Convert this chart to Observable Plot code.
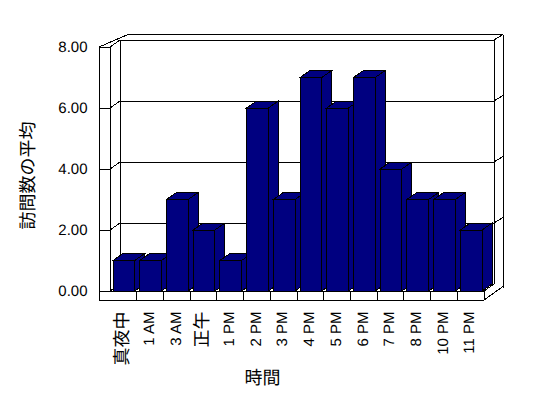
<!DOCTYPE html>
<html><head><meta charset="utf-8">
<script src="https://cdn.jsdelivr.net/npm/d3@7"></script>
<script src="https://cdn.jsdelivr.net/npm/@observablehq/plot@0.6"></script>
<style>html,body{margin:0;padding:0;background:#fff;overflow:hidden}svg text{text-rendering:geometricPrecision}</style>
</head><body><div id="chart"></div>
<script>
const categories = ["真夜中","1 AM","3 AM","正午","1 PM","2 PM","3 PM","4 PM","5 PM","6 PM","7 PM","8 PM","10 PM","11 PM"];
const visits = [1,1,3,2,1,6,3,7,6,7,4,3,3,2];
const yTicks = [0,2,4,6,8];
const yTitle = "訪問数の平均";
const xTitle = "時間";

const data = categories.map((c, i) => ({cat: c, v: visits[i]}));

const BAR_FILL = "#000080";
const DEPTH = [10, -7];      // 3D depth offset
const WALL = 11;             // left wall thickness
const FLOOR = 9;             // floor slab thickness
const BACK = [9, -5.5];      // back wall thickness
const INSET_L = 3, INSET_R = 2;
const LATIN = "'Liberation Sans', Arial, 'Noto Sans CJK JP', sans-serif";
const CJK = "'Noto Sans CJK JP', sans-serif";
const isCJK = s => /[^\x00-\x7F]/.test(s);

function walls(index, scales) {
  const x = scales.x, y = scales.y;
  const [X0, X1] = x.range();
  const Y0 = y(0), Yt = y(d3.max(yTicks));
  const [dx, dy] = DEPTH;
  const [tx, ty] = BACK;
  const p = d3.path();
  const seg = (a, b, c, d) => { p.moveTo(a, b); p.lineTo(c, d); };
  const XL = X0 - WALL, YB = Y0 + FLOOR;
  seg(XL, Yt, XL, YB);
  seg(X0, Yt, X0, Y0);
  seg(XL, Yt, X0, Yt);
  seg(XL, Yt, X0 + dx + tx - 1, Yt + dy + ty);
  seg(X0, Yt, X0 + dx, Yt + dy);
  seg(X0 + dx + tx - 1, Yt + dy + ty, X1 + dx + tx, Yt + dy + ty);
  seg(X0 + dx, Yt + dy, X0 + dx, Y0 + dy);
  seg(X1 + dx, Yt + dy, X1 + dx, Y0 + dy);
  seg(X1 + dx + tx, Yt + dy + ty, X1 + dx + tx, YB + dy + ty);
  seg(X1 + dx, Yt + dy, X1 + dx + tx, Yt + dy + ty);
  for (const t of yTicks) {
    const yy = y(t);
    seg(XL, yy, X0, yy);
    seg(X0, yy, X0 + dx, yy + dy);
    seg(X0 + dx, yy + dy, X1 + dx, yy + dy);
    if (t !== 0) seg(X1 + dx, yy + dy, X1 + dx + tx, yy + dy + ty);
  }
  seg(X0, Y0, X1, Y0);
  seg(XL, YB, X1, YB);
  seg(X1, Y0, X1, YB);
  seg(X1, Y0, X1 + dx, Y0 + dy);
  seg(X1, YB, X1 + dx + tx, YB + dy + ty - 1);
  for (const c of categories.slice(1)) seg(x(c), Y0, x(c), YB);
  const g = d3.create("svg:g");
  g.append("path").attr("d", p.toString()).attr("fill", "none").attr("stroke", "black")
    .attr("stroke-width", 1).attr("shape-rendering", "crispEdges");
  return g.node();
}

function extrusions(index, scales) {
  const x = scales.x, y = scales.y;
  const bw = x.bandwidth();
  const [dx, dy] = DEPTH;
  const g = d3.create("svg:g").attr("fill", BAR_FILL).attr("stroke", "black")
    .attr("stroke-linejoin", "miter").attr("shape-rendering", "crispEdges");
  data.forEach(d => {
    const L = x(d.cat) + INSET_L, R = x(d.cat) + bw - INSET_R;
    const T = y(d.v), B = y(0);
    g.append("path").attr("d", `M${R},${T}L${R + dx},${T + dy}L${R + dx},${B + dy}L${R},${B}Z`);
    g.append("path").attr("d", `M${L},${T}L${R},${T}L${R + dx},${T + dy}L${L + dx},${T + dy}Z`);
  });
  return g.node();
}

const chart = Plot.plot({
  width: 548,
  height: 398,
  marginLeft: 110,
  marginRight: 64,
  marginTop: 47,
  marginBottom: 107,
  style: {fontFamily: LATIN, fontSize: "15px", background: "white", color: "black"},
  x: {domain: categories, padding: 0, round: false, axis: null},
  y: {domain: [0, 8], axis: null},
  marks: [
    walls,
    extrusions,
    Plot.barY(data, {x: "cat", y: "v", fill: BAR_FILL, stroke: "black", insetLeft: INSET_L, insetRight: INSET_R, shapeRendering: "crispEdges"}),
    Plot.text(yTicks, {y: d => d, text: d => d3.format(".2f")(d), frameAnchor: "left", textAnchor: "end", dx: -23, fontSize: 15, fontFamily: LATIN, fill: "black"}),
    Plot.text(categories.filter(c => !isCJK(c)), {x: d => d, text: d => d, frameAnchor: "bottom", rotate: -90, textAnchor: "end", lineAnchor: "middle", dx: -1.5, dy: 20, fontSize: 15, fontFamily: LATIN, fill: "black"}),
    Plot.text(categories.filter(isCJK), {x: d => d, text: d => d, frameAnchor: "bottom", rotate: -90, textAnchor: "end", lineAnchor: "middle", dx: -1.5, dy: 20, fontSize: 18, fontFamily: CJK, fill: "black"}),
    Plot.text([yTitle], {text: d => d, frameAnchor: "left", rotate: -90, dx: -82, dy: 6, textAnchor: "middle", lineAnchor: "middle", fontSize: 18, fontFamily: CJK, fill: "black"}),
    Plot.text([xTitle], {text: d => d, frameAnchor: "bottom", dx: -35, dy: 87, textAnchor: "middle", lineAnchor: "middle", fontSize: 18, fontFamily: CJK, fill: "black"})
  ]
});
document.getElementById("chart").appendChild(chart);
</script>
</body></html>
